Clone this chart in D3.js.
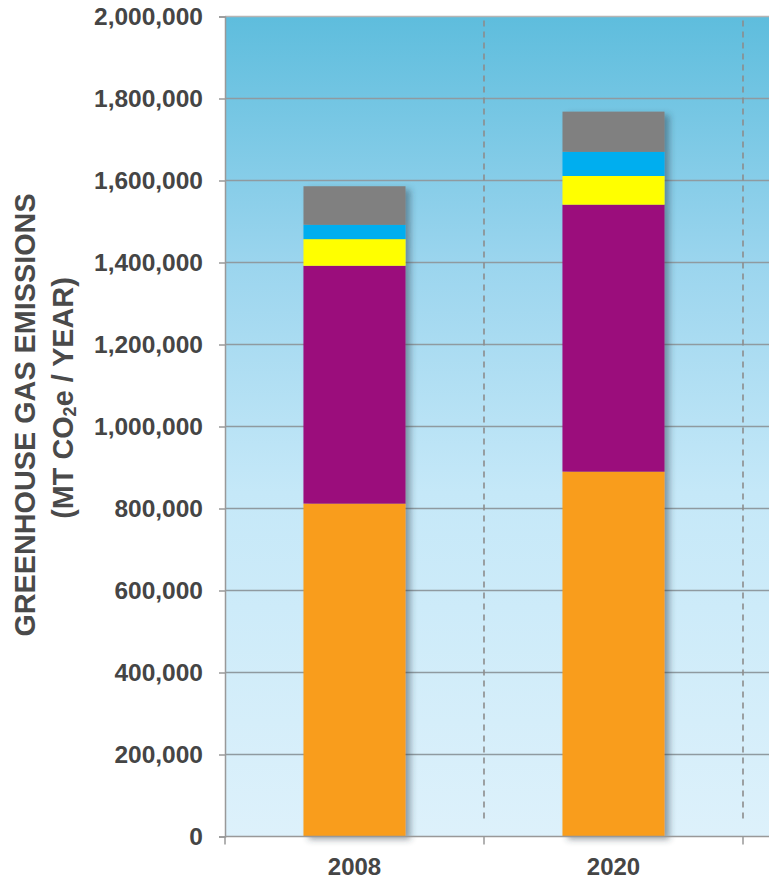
<!DOCTYPE html>
<html>
<head>
<meta charset="utf-8">
<script src="https://cdn.jsdelivr.net/npm/d3@7"></script>
<style>
  body { margin: 0; background: #fff; }
  svg text { font-family: "Liberation Sans", Arial, sans-serif; font-weight: bold; }
</style>
</head>
<body>
<svg id="chart" width="769" height="883"></svg>
<script>
// data
const years = ["2008", "2020"];
const segments = ["orange", "purple", "yellow", "blue", "gray"];
const segColors = ["#F99D1C", "#9B0A7C", "#FFFF00", "#00AEEF", "#808080"];
const orangeVals = [812000, 890000];
const purpleVals = [580000, 651000];
const yellowVals = [65000, 70000];
const blueVals = [35000, 59000];
const grayVals = [94000, 98000];
const yTicks = [0, 200000, 400000, 600000, 800000, 1000000, 1200000, 1400000, 1600000, 1800000, 2000000];

const svg = d3.select("svg#chart");
const width = +svg.attr("width");
const margin = { top: 16.5, left: 225, bottom: 46.5 };
const plotBottom = 883 - margin.bottom;
const bandW = 259;

const rows = years.map((y, i) => ({
  year: y,
  orange: orangeVals[i],
  purple: purpleVals[i],
  yellow: yellowVals[i],
  blue: blueVals[i],
  gray: grayVals[i]
}));
const stacked = d3.stack().keys(segments)(rows);

const x = d3.scaleBand().domain(years).range([margin.left, margin.left + bandW * years.length]).padding(0);
const y = d3.scaleLinear().domain([0, 2000000]).range([plotBottom, margin.top]);
const color = d3.scaleOrdinal().domain(segments).range(segColors);

const defs = svg.append("defs");
const grad = defs.append("linearGradient").attr("id", "bg").attr("x1", 0).attr("y1", 0).attr("x2", 0).attr("y2", 1);
grad.append("stop").attr("offset", "0%").attr("stop-color", "#5ebddd");
grad.append("stop").attr("offset", "30%").attr("stop-color", "#9bd5ee");
grad.append("stop").attr("offset", "58%").attr("stop-color", "#c5e8f8");
grad.append("stop").attr("offset", "100%").attr("stop-color", "#ddf1fb");

const shadow = defs.append("filter").attr("id", "shadow")
  .attr("x", "-10%").attr("y", "-10%").attr("width", "130%").attr("height", "130%");
shadow.append("feDropShadow").attr("dx", 5).attr("dy", 3).attr("stdDeviation", 3)
  .attr("flood-color", "#2a3a45").attr("flood-opacity", 0.45);

// plot background
svg.append("rect")
  .attr("x", margin.left).attr("y", margin.top)
  .attr("width", width - margin.left).attr("height", plotBottom - margin.top)
  .attr("fill", "url(#bg)");

// gridlines
svg.append("g").selectAll("line")
  .data(yTicks.filter(d => d > 0))
  .join("line")
  .attr("x1", margin.left).attr("x2", width)
  .attr("y1", d => y(d)).attr("y2", d => y(d))
  .attr("stroke", d => d === 2000000 ? "#b5b5b5" : "#8f9aa0")
  .attr("stroke-width", 1.3);

// dashed separators
svg.append("g").selectAll("line")
  .data(years)
  .join("line")
  .attr("x1", d => x(d) + x.bandwidth()).attr("x2", d => x(d) + x.bandwidth())
  .attr("y1", y(1990000)).attr("y2", y(35000))
  .attr("stroke", "#8c8c8c").attr("stroke-width", 1.6)
  .attr("stroke-dasharray", "6,5");

// bars
const barW = x.bandwidth() * 0.394;
const bars = svg.append("g").selectAll("g.bar")
  .data(years)
  .join("g")
  .attr("class", "bar")
  .attr("filter", "url(#shadow)");

bars.selectAll("rect")
  .data((yr, i) => stacked.map(s => ({ key: s.key, v: s[i] })))
  .join("rect")
  .attr("x", function () { return x(d3.select(this.parentNode).datum()) + (x.bandwidth() - barW) / 2; })
  .attr("width", barW)
  .attr("y", d => y(d.v[1]))
  .attr("height", d => y(d.v[0]) - y(d.v[1]))
  .attr("fill", d => color(d.key));

// y axis
const yAxis = svg.append("g")
  .attr("transform", `translate(${margin.left},0)`)
  .call(d3.axisLeft(y).tickValues(yTicks).tickFormat(d3.format(",")).tickSize(6).tickPadding(16));
yAxis.select(".domain").attr("stroke", "#999").attr("stroke-width", 1.5);
yAxis.selectAll(".tick line").attr("stroke", "#999").attr("stroke-width", 1.5);
yAxis.selectAll(".tick text")
  .attr("fill", "#454545").style("font-size", "24.5px").style("font-family", "Liberation Sans, Arial, sans-serif");

// x axis
const xAxis = svg.append("g")
  .attr("transform", `translate(0,${plotBottom})`)
  .call(d3.axisBottom(x).tickSize(0).tickPadding(21));
xAxis.select(".domain").attr("stroke", "#999").attr("stroke-width", 1.5)
  .attr("d", `M${margin.left},0H${width}`);
xAxis.selectAll(".tick text")
  .attr("fill", "#454545").style("font-size", "24px").style("font-family", "Liberation Sans, Arial, sans-serif");

// x ticks at band boundaries
const bounds = [margin.left].concat(years.map(d => x(d) + x.bandwidth()));
svg.append("g").selectAll("line")
  .data(bounds)
  .join("line")
  .attr("x1", d => d).attr("x2", d => d)
  .attr("y1", plotBottom).attr("y2", plotBottom + 8)
  .attr("stroke", "#999").attr("stroke-width", 1.5);

// y title
const title1 = svg.append("text")
  .attr("transform", "translate(25,415) rotate(-90)")
  .attr("text-anchor", "middle")
  .attr("dominant-baseline", "central")
  .attr("fill", "#4a4a4a")
  .style("font-size", "28.8px")
  .text("GREENHOUSE GAS EMISSIONS");

const title2 = svg.append("text")
  .attr("transform", "translate(63,398) rotate(-90)")
  .attr("text-anchor", "middle")
  .attr("dominant-baseline", "central")
  .attr("fill", "#4a4a4a")
  .style("font-size", "28.8px");
title2.append("tspan").text("(MT CO");
title2.append("tspan").attr("dy", 7).style("font-size", "18px").text("2");
title2.append("tspan").attr("dy", -7).text("e / YEAR)");
</script>
</body>
</html>
